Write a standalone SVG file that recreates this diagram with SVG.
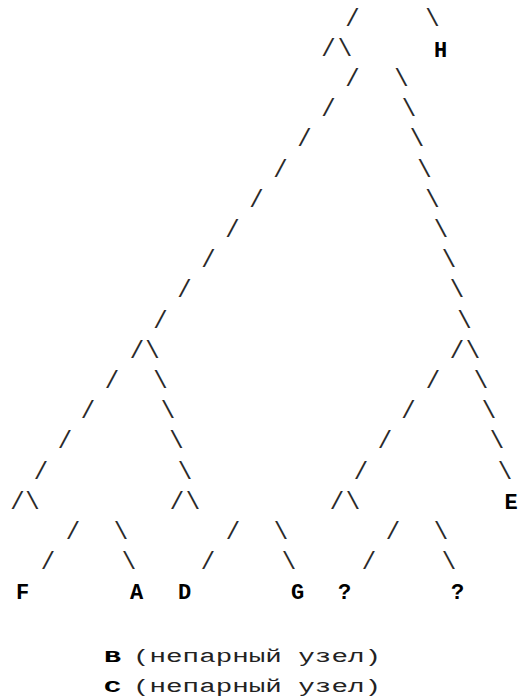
<svg xmlns="http://www.w3.org/2000/svg" width="518" height="700" viewBox="0 0 518 700">
<style>
.s{font-family:"Liberation Mono","DejaVu Sans Mono",monospace;font-size:24px;fill:#2a2a2a;text-anchor:middle}
.n{font-family:"Liberation Mono","DejaVu Sans Mono",monospace;font-size:22px;font-weight:bold;fill:#000;text-anchor:middle}
.b{font-family:"Liberation Mono","DejaVu Sans Mono",monospace;font-size:17px;font-weight:bold;fill:#000}
.t{font-family:"Liberation Mono","DejaVu Sans Mono",monospace;font-size:19px;fill:#222}
</style>
<rect width="518" height="700" fill="#fff"/>
<g id="connectors">
<text class="s" x="352.5" y="25.5">/</text><text class="s" x="432.5" y="25.5">\</text>
<text class="s" x="328.5" y="55.7">/</text><text class="s" x="345" y="55.7">\</text>
<text class="s" x="352.5" y="85.9">/</text><text class="s" x="401.5" y="85.9">\</text>
<text class="s" x="328.5" y="116.1">/</text><text class="s" x="409" y="116.1">\</text>
<text class="s" x="304.5" y="146.3">/</text><text class="s" x="417" y="146.3">\</text>
<text class="s" x="280.5" y="176.5">/</text><text class="s" x="424.5" y="176.5">\</text>
<text class="s" x="256.5" y="206.7">/</text><text class="s" x="432.5" y="206.7">\</text>
<text class="s" x="232.5" y="236.9">/</text><text class="s" x="441" y="236.9">\</text>
<text class="s" x="208.5" y="267.1">/</text><text class="s" x="449" y="267.1">\</text>
<text class="s" x="184.5" y="297.3">/</text><text class="s" x="457" y="297.3">\</text>
<text class="s" x="160.5" y="327.5">/</text><text class="s" x="464.5" y="327.5">\</text>
<text class="s" x="137" y="357.7">/</text><text class="s" x="152.5" y="357.7">\</text><text class="s" x="457" y="357.7">/</text><text class="s" x="473" y="357.7">\</text>
<text class="s" x="112" y="387.9">/</text><text class="s" x="160.5" y="387.9">\</text><text class="s" x="433" y="387.9">/</text><text class="s" x="481" y="387.9">\</text>
<text class="s" x="88" y="418.1">/</text><text class="s" x="168" y="418.1">\</text><text class="s" x="408.5" y="418.1">/</text><text class="s" x="489" y="418.1">\</text>
<text class="s" x="65" y="448.3">/</text><text class="s" x="176.5" y="448.3">\</text><text class="s" x="385" y="448.3">/</text><text class="s" x="497" y="448.3">\</text>
<text class="s" x="41" y="478.5">/</text><text class="s" x="185" y="478.5">\</text><text class="s" x="361" y="478.5">/</text><text class="s" x="505" y="478.5">\</text>
<text class="s" x="17.5" y="508.7">/</text><text class="s" x="32.5" y="508.7">\</text><text class="s" x="177" y="508.7">/</text><text class="s" x="193" y="508.7">\</text><text class="s" x="337" y="508.7">/</text><text class="s" x="353" y="508.7">\</text>
<text class="s" x="73" y="538.9">/</text><text class="s" x="121" y="538.9">\</text><text class="s" x="233" y="538.9">/</text><text class="s" x="281" y="538.9">\</text><text class="s" x="393" y="538.9">/</text><text class="s" x="441" y="538.9">\</text>
<text class="s" x="48" y="569.1">/</text><text class="s" x="129" y="569.1">\</text><text class="s" x="208" y="569.1">/</text><text class="s" x="289" y="569.1">\</text><text class="s" x="369" y="569.1">/</text><text class="s" x="449" y="569.1">\</text>
</g>
<g id="node-H"><text class="n" x="440.5" y="57">H</text></g>
<g id="node-E"><text class="n" x="511" y="509">E</text></g>
<g id="node-F"><text class="n" x="22.5" y="599">F</text></g>
<g id="node-A"><text class="n" x="136.5" y="599">A</text></g>
<g id="node-D"><text class="n" x="184.5" y="599">D</text></g>
<g id="node-G"><text class="n" x="297.5" y="599">G</text></g>
<g id="node-q1"><text class="n" x="344.5" y="599">?</text></g>
<g id="node-q2"><text class="n" x="457.5" y="599">?</text></g>
<g id="legend-B"><text class="b" x="104" y="662" textLength="17" lengthAdjust="spacingAndGlyphs">B</text><text class="t" x="133" y="662" textLength="248" lengthAdjust="spacingAndGlyphs">(непарный узел)</text></g>
<g id="legend-C"><text class="b" x="104" y="692" textLength="17" lengthAdjust="spacingAndGlyphs">C</text><text class="t" x="133" y="692" textLength="248" lengthAdjust="spacingAndGlyphs">(непарный узел)</text></g>
</svg>
